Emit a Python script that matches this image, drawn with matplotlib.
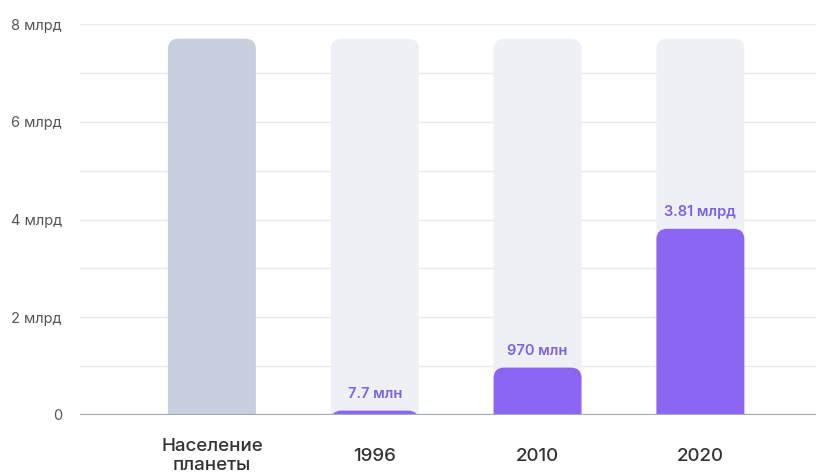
import matplotlib
matplotlib.use("Agg")
import matplotlib.pyplot as plt
from matplotlib.patches import FancyBboxPatch

# data (billions)
categories = ["Население\nпланеты", "1996", "2010", "2020"]
values = [7.7, 0.0077, 0.97, 3.81]
value_labels = [None, "7.7 млн", "970 млн", "3.81 млрд"]
population = 7.7
y_ticks = [0, 2, 4, 6, 8]
y_tick_labels = ["0", "2 млрд", "4 млрд", "6 млрд", "8 млрд"]

plt.rcParams['font.family'] = ['Inter', 'DejaVu Sans']

fig = plt.figure(figsize=(8.16, 4.75), dpi=100)
ax = fig.add_axes([80 / 816, 60 / 475, 736 / 816, 391 / 475])

ax.set_xlim(-0.81, 3.71)
ax.set_ylim(0, 8)

# grid lines
for y in range(0, 9):
    ax.axhline(y, color="#e9eaee", lw=1.0, zorder=0)
ax.axhline(0, color="#a3a8b5", lw=1.6, zorder=5)

width = 0.54
# aspect so corners are round in pixel space
x_px = 736 / (3.71 + 0.81)
y_px = 391 / 8
aspect = x_px / y_px
rad = 0.065
min_h = 0.09  # smallest visible bar height

def rounded_bar(x, h, color, z):
    p = FancyBboxPatch((x - width / 2, -1), width, h + 1,
                       boxstyle=f"round,pad=0,rounding_size={rad}",
                       mutation_aspect=aspect, fc=color, ec="none", zorder=z)
    p.set_clip_path(ax.patch)
    ax.add_patch(p)

for i, v in enumerate(values):
    if i == 0:
        rounded_bar(i, population, "#c8cfdf", 2)
    else:
        rounded_bar(i, population, "#eef0f5", 1)
        rounded_bar(i, max(v, min_h), "#8b66f2", 3)
        ax.text(i, max(v, min_h) + 0.2, value_labels[i], ha="center", va="bottom",
                fontsize=10.5, fontweight="semibold", color="#7c5fe6", zorder=6)

# category labels
for i, c in enumerate(categories):
    ax.text(i, -0.105, c, transform=ax.get_xaxis_transform(), ha="center", va="center",
            fontsize=13.5, fontweight="medium", color="#333333", linespacing=1.2)

ax.set_yticks(y_ticks)
ax.set_yticklabels(y_tick_labels, fontsize=10.5, color="#555555")
ax.tick_params(axis="y", length=0, pad=13)
ax.set_xticks([])
for s in ax.spines.values():
    s.set_visible(False)

fig.savefig("out.png", dpi=100)
